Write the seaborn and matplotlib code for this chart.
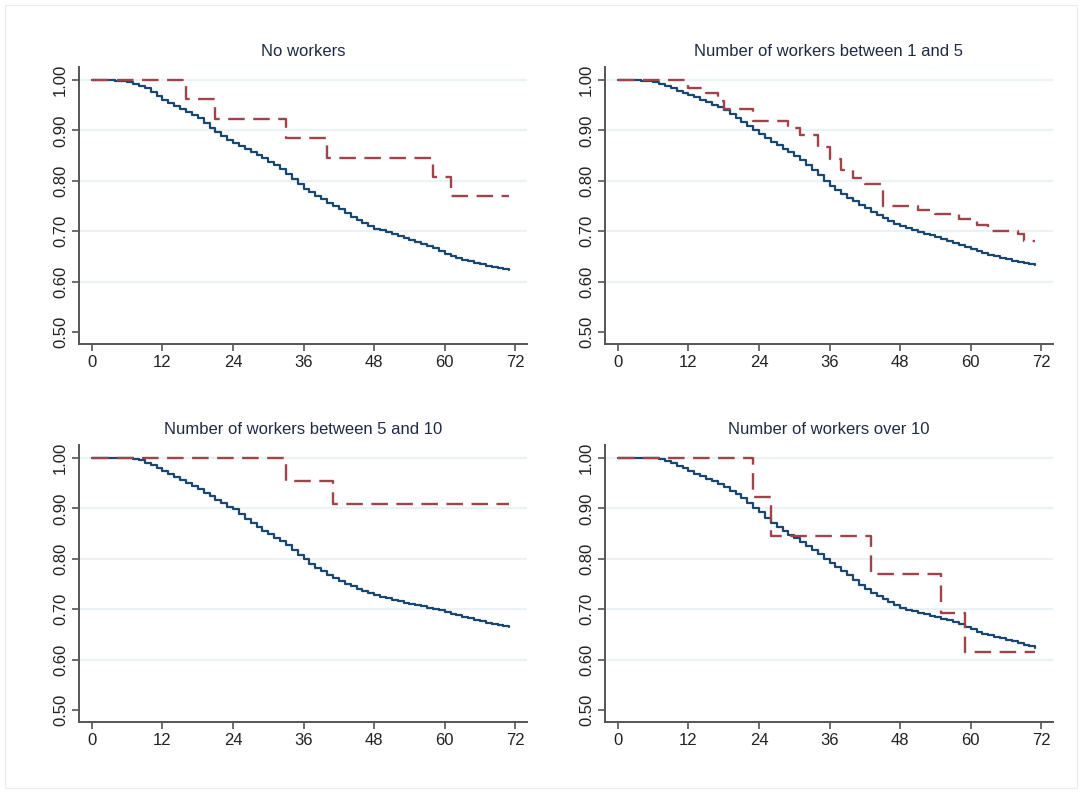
import numpy as np
import pandas as pd
import matplotlib
matplotlib.use("Agg")
import matplotlib.pyplot as plt
from matplotlib.patches import Rectangle
import seaborn as sns

sns.set_style("white")
plt.rcParams['font.family'] = ['Liberation Sans', 'DejaVu Sans']

# panel titles
titles = ["No workers",
          "Number of workers between 1 and 5",
          "Number of workers between 5 and 10",
          "Number of workers over 10"]

# months 0..71 for the smooth (model) curve
months = list(range(72))

blue_none = [1.000, 1.000, 1.000, 1.000, 0.999, 0.998, 0.996, 0.993, 0.989, 0.984,
             0.976, 0.968, 0.961, 0.955, 0.949, 0.943, 0.937, 0.931, 0.924, 0.915,
             0.905, 0.897, 0.889, 0.882, 0.876, 0.869, 0.863, 0.857, 0.851, 0.845,
             0.838, 0.831, 0.823, 0.813, 0.804, 0.793, 0.784, 0.777, 0.770, 0.763,
             0.756, 0.750, 0.744, 0.737, 0.729, 0.722, 0.716, 0.710, 0.705, 0.702,
             0.698, 0.694, 0.690, 0.686, 0.682, 0.678, 0.674, 0.670, 0.666, 0.661,
             0.655, 0.651, 0.647, 0.643, 0.640, 0.637, 0.634, 0.631, 0.628, 0.626,
             0.624, 0.623]
blue_1to5 = [1.000, 1.000, 1.000, 1.000, 0.999, 0.998, 0.996, 0.993, 0.989, 0.984,
             0.979, 0.975, 0.971, 0.966, 0.961, 0.956, 0.951, 0.946, 0.940, 0.933,
             0.925, 0.916, 0.908, 0.900, 0.892, 0.885, 0.878, 0.871, 0.864, 0.857,
             0.849, 0.841, 0.832, 0.822, 0.811, 0.799, 0.789, 0.781, 0.773, 0.766,
             0.759, 0.752, 0.746, 0.739, 0.732, 0.726, 0.720, 0.715, 0.711, 0.707,
             0.703, 0.699, 0.695, 0.692, 0.688, 0.684, 0.680, 0.676, 0.672, 0.668,
             0.664, 0.660, 0.657, 0.653, 0.650, 0.647, 0.644, 0.641, 0.639, 0.636,
             0.634, 0.633]
blue_5to10 = [1.000, 1.000, 1.000, 1.000, 1.000, 1.000, 1.000, 0.999, 0.996, 0.991,
              0.986, 0.980, 0.974, 0.968, 0.962, 0.956, 0.950, 0.944, 0.938, 0.931,
              0.924, 0.917, 0.910, 0.903, 0.898, 0.889, 0.880, 0.871, 0.863, 0.856,
              0.849, 0.842, 0.835, 0.827, 0.818, 0.808, 0.799, 0.790, 0.782, 0.775,
              0.768, 0.762, 0.756, 0.751, 0.746, 0.741, 0.736, 0.732, 0.728, 0.725,
              0.722, 0.719, 0.716, 0.713, 0.711, 0.708, 0.706, 0.703, 0.701, 0.698,
              0.694, 0.691, 0.688, 0.685, 0.682, 0.679, 0.676, 0.673, 0.670, 0.668,
              0.666, 0.665]
blue_over10 = [1.000, 1.000, 1.000, 1.000, 1.000, 1.000, 1.000, 0.999, 0.995, 0.990,
               0.985, 0.980, 0.975, 0.969, 0.964, 0.959, 0.954, 0.948, 0.942, 0.935,
               0.928, 0.920, 0.910, 0.901, 0.892, 0.881, 0.871, 0.863, 0.855, 0.848,
               0.841, 0.834, 0.826, 0.818, 0.809, 0.800, 0.792, 0.784, 0.776, 0.767,
               0.758, 0.749, 0.740, 0.733, 0.727, 0.720, 0.714, 0.708, 0.703, 0.699,
               0.696, 0.693, 0.690, 0.687, 0.684, 0.681, 0.678, 0.675, 0.671, 0.665,
               0.660, 0.655, 0.651, 0.648, 0.645, 0.642, 0.639, 0.636, 0.633, 0.629,
               0.626, 0.623]

# Kaplan-Meier steps (time, survival after the step)
km_none_t = [0, 16, 21, 33, 40, 58, 61, 71]
km_none_s = [1.000, 0.962, 0.923, 0.885, 0.846, 0.808, 0.769, 0.769]
km_1to5_t = [0, 12, 15, 17, 18, 23, 29, 31, 34, 36, 38, 40, 42, 45, 51, 54, 58, 61,
             63, 68, 69, 71]
km_1to5_s = [1.000, 0.984, 0.974, 0.958, 0.943, 0.918, 0.905, 0.891, 0.867, 0.843,
             0.822, 0.805, 0.793, 0.751, 0.742, 0.734, 0.725, 0.713, 0.700, 0.695,
             0.681, 0.681]
km_5to10_t = [0, 33, 41, 71]
km_5to10_s = [1.000, 0.955, 0.909, 0.909]
km_over10_t = [0, 23, 26, 43, 55, 59, 71]
km_over10_s = [1.000, 0.923, 0.846, 0.769, 0.692, 0.615, 0.615]

blues = [blue_none, blue_1to5, blue_5to10, blue_over10]
kms = [(km_none_t, km_none_s), (km_1to5_t, km_1to5_s),
       (km_5to10_t, km_5to10_s), (km_over10_t, km_over10_s)]

navy = "#1a476f"
maroon = "#a0434a"
W, H = 1082, 793
fig = plt.figure(figsize=(W / 100, H / 100), dpi=100)
fig.patches.append(Rectangle((5 / W, 5 / H), 1 - 10 / W, 1 - 10 / H,
                             transform=fig.transFigure, fill=False,
                             edgecolor="#ececec", linewidth=0.8))

# axes boxes in pixels: left, top, right, bottom
boxes = [(79, 67, 527, 344), (605, 67, 1053, 344),
         (79, 445, 527, 722), (605, 445, 1053, 722)]

for i, (l, t, r, b) in enumerate(boxes):
    ax = fig.add_axes([l / W, 1 - b / H, (r - l) / W, (b - t) / H])
    for y in [0.6, 0.7, 0.8, 0.9, 1.0]:
        ax.axhline(y, color="#eaf2f3", linewidth=1.6, zorder=0)

    df_b = pd.DataFrame({"t": months, "s": blues[i]})
    sns.lineplot(data=df_b, x="t", y="s", ax=ax, color=navy, linewidth=1.6,
                 drawstyle="steps-post", estimator=None, zorder=2)
    df_r = pd.DataFrame({"t": kms[i][0], "s": kms[i][1]})
    sns.lineplot(data=df_r, x="t", y="s", ax=ax, color=maroon, linewidth=1.7,
                 drawstyle="steps-post", estimator=None, linestyle=(0, (7, 3.6)),
                 zorder=3)

    ax.set_xlim(-2.2, 74)
    ax.set_ylim(0.476, 1.026)
    ax.set_xticks([0, 12, 24, 36, 48, 60, 72])
    ax.set_yticks([0.5, 0.6, 0.7, 0.8, 0.9, 1.0])
    ax.set_yticklabels([f"{v:.2f}" for v in [0.5, 0.6, 0.7, 0.8, 0.9, 1.0]],
                       rotation=90, va="center")
    ax.set_xlabel("")
    ax.set_ylabel("")
    ax.tick_params(axis="both", direction="out", length=5, width=1.2,
                   color="#555555", labelsize=12, labelcolor="#222222", pad=3,
                   left=True, bottom=True)
    sns.despine(ax=ax)
    for sp in ["left", "bottom"]:
        ax.spines[sp].set_color("#555555")
        ax.spines[sp].set_linewidth(1.4)
    ax.set_title(titles[i], fontsize=12, color="#1f2b44", pad=8)

plt.savefig("out.png", dpi=100)
